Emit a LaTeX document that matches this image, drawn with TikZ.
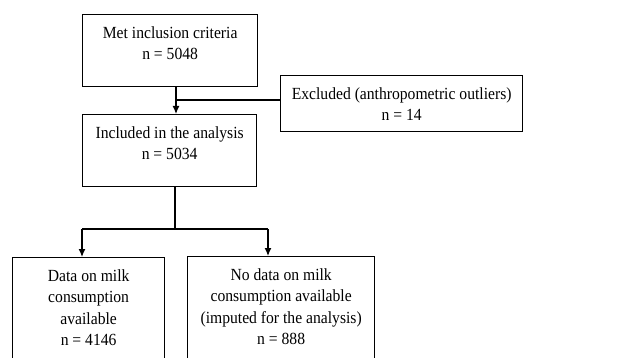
\documentclass[tikz,border=0pt]{standalone}
\usepackage{fontspec}
\setmainfont[FakeStretch=0.92]{Liberation Serif}
\usetikzlibrary{arrows.meta, positioning}

% box text, top aligned: height, width, text
\newcommand{\boxtext}[3]{\parbox[t][#1][t]{#2}{\centering\vspace*{12pt}#3}}

\tikzset{
  stage/.style={draw, line width=1.3pt, inner sep=0pt, anchor=north west},
  arr/.style={line width=1.3pt, -{Latex[length=8pt,width=7pt]}},
  link/.style={line width=1.3pt}
}

\begin{document}
\begin{tikzpicture}[x=1pt, y=-1pt, font=\fontsize{17}{21.5}\selectfont]
  \clip (0,0) rectangle (639,358);
  \fill[white] (0,0) rectangle (639,358);

  \node[stage] (met) at (82,14) {\boxtext{72pt}{175pt}{Met inclusion criteria\\ n = 5048}};
  \node[stage] (excl) at (280,75) {\boxtext{56pt}{242pt}{Excluded (anthropometric outliers)\\ n = 14}};
  \node[stage] (inc) at (82,114) {\boxtext{72pt}{174pt}{Included in the analysis\\ n = 5034}};
  \node[stage] (data) at (12,257) {\boxtext{120pt}{152pt}{Data on milk\\ consumption\\ available\\ n = 4146}};
  \node[stage] (nodata) at (187,256) {\boxtext{120pt}{187pt}{No data on milk\\ consumption available\\ (imputed for the analysis)\\ n = 888}};

  \coordinate (trunk) at (176,100);
  \coordinate (split) at (175,229);
  \coordinate (lft) at (82,229);
  \coordinate (rgt) at (268,229);

  \draw[arr] (met.south -| trunk) -- (inc.north -| trunk);
  \draw[link] (trunk) -- (trunk -| excl.west);
  \draw[link] (inc.south -| split) -- (split);
  \draw[link] (lft) -- (rgt);
  \draw[arr] (lft) -- (lft |- data.north);
  \draw[arr] (rgt) -- (rgt |- nodata.north);
\end{tikzpicture}
\end{document}
